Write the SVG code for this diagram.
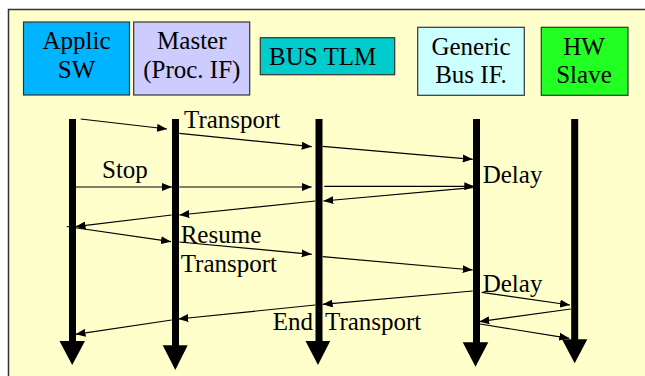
<svg xmlns="http://www.w3.org/2000/svg" width="645" height="376" viewBox="0 0 645 376">
<defs>
<style>
.box{stroke:#333;stroke-width:1.2}
.t{font-size:25px;fill:#000}
.c{text-anchor:middle}
.life{fill:#000}
.msg{stroke:#000;stroke-width:1.2;fill:none;marker-end:url(#ah)}
</style>
<marker id="ah" viewBox="0 0 10 8" refX="10" refY="4" markerWidth="10" markerHeight="8" markerUnits="userSpaceOnUse" orient="auto">
<path d="M0,0 L10,4 L0,8 z" fill="#000"/>
</marker>
</defs>
<rect x="0" y="0" width="645" height="376" fill="#fff"/>
<rect x="8.5" y="9.5" width="700" height="400" fill="#FFFFCC" stroke="#333" stroke-width="1.5"/>
<g font-family="Liberation Serif, DejaVu Serif, serif">
<g id="applic-sw">
<rect class="box" x="23.5" y="22" width="106" height="73" fill="#00B4FF"/>
<text class="t c" x="76.5" y="49">Applic</text>
<text class="t c" x="76.5" y="78">SW</text>
<rect class="life" x="69" y="119" width="7" height="223"/>
<polygon class="life" points="59.5,341 85,341 72.2,365"/>
</g>

<g id="master">
<rect class="box" x="133.7" y="22" width="116" height="73" fill="#CCCCFF"/>
<text class="t c" x="191.8" y="49">Master</text>
<text class="t c" x="191.8" y="78">(Proc. IF)</text>
<rect class="life" x="172" y="119" width="7" height="227"/>
<polygon class="life" points="162.7,345.3 187.7,345.3 175.3,370"/>
</g>

<g id="bus-tlm">
<rect class="box" x="260.3" y="37.7" width="134.4" height="37" fill="#00CCCC"/>
<text class="t" x="269" y="65">BUS TLM</text>
<rect class="life" x="315.5" y="119" width="7" height="223"/>
<polygon class="life" points="305.5,341 330.2,341 318,365"/>
</g>

<g id="generic-bus-if">
<rect class="box" x="417.7" y="27.3" width="106.6" height="68" fill="#CCFFFF"/>
<text class="t c" x="471" y="55">Generic</text>
<text class="t c" x="471" y="83">Bus IF.</text>
<rect class="life" x="473" y="119" width="7" height="224"/>
<polygon class="life" points="462.7,342.3 488.3,342.3 475.5,366.7"/>
</g>

<g id="hw-slave">
<rect class="box" x="541.3" y="27.3" width="86.7" height="68" fill="#22FF22"/>
<text class="t c" x="584" y="55">HW</text>
<text class="t c" x="584" y="83">Slave</text>
<rect class="life" x="571.2" y="119" width="7" height="221"/>
<polygon class="life" points="562,339.3 587.3,339.3 574.7,363.3"/>
</g>

<g id="connectors">
<line class="msg" x1="80.7" y1="119" x2="167" y2="129"/>
<line class="msg" x1="179.3" y1="133.3" x2="311.7" y2="146.7"/>
<line class="msg" x1="322.7" y1="146.3" x2="472.7" y2="159.3"/>
<line class="msg" x1="76" y1="187" x2="172" y2="187"/>
<line class="msg" x1="179.3" y1="187" x2="311.7" y2="187"/>
<line class="msg" x1="324.3" y1="186.3" x2="474.3" y2="186.3"/>
<line class="msg" x1="472.7" y1="187.7" x2="323.3" y2="201"/>
<line class="msg" x1="315.3" y1="201" x2="179.3" y2="215"/>
<line class="msg" x1="171.7" y1="215" x2="75.5" y2="226.7"/>
<line class="msg" x1="66.7" y1="226.5" x2="171" y2="241.7"/>
<line class="msg" x1="179.3" y1="242" x2="311.7" y2="254.3"/>
<line class="msg" x1="322.7" y1="256.7" x2="472.7" y2="270"/>
<line class="msg" x1="481.7" y1="292.3" x2="570" y2="305"/>
<line class="msg" x1="472.7" y1="291" x2="322.7" y2="304.3"/>
<line class="msg" x1="315.3" y1="305" x2="178.3" y2="319"/>
<line class="msg" x1="171.7" y1="320" x2="75.5" y2="334.3"/>
<line class="msg" x1="570.7" y1="309" x2="479.3" y2="321.7"/>
<line class="msg" x1="480" y1="324" x2="569.3" y2="338.3"/>
</g>

<g id="labels">
<text class="t" x="184" y="127.7">Transport</text>
<text class="t" x="102" y="178.3">Stop</text>
<text class="t" x="482.7" y="183.3">Delay</text>
<text class="t" x="180.7" y="243.3">Resume</text>
<text class="t" x="180.7" y="271.7">Transport</text>
<text class="t" x="482.7" y="291.7">Delay</text>
<text class="t" x="272.7" y="330">End <tspan x="325">Transport</tspan></text>
</g>
</g>
</svg>
